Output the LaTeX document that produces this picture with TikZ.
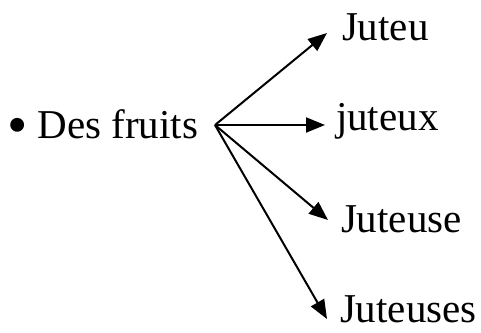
\documentclass[tikz,border=0pt]{standalone}
\usepackage{fontspec}
\setmainfont{Liberation Serif}
\usepackage{tikz}
\usetikzlibrary{arrows.meta}

\begin{document}
\begin{tikzpicture}[x=1pt, y=-1pt, every node/.style={inner sep=0pt, anchor=base west, font=\fontsize{41}{41}\selectfont}, every path/.style={line width=2pt}, fleche/.style={-{Triangle[length=19pt, width=15pt]}}]

    \useasboundingbox (0,0) rectangle (481,332);

    \node (fruits) at (6,138) {\raisebox{-6pt}{\fontsize{58}{58}\selectfont •} Des fruits};

    \coordinate (fork) at (215,125);

    \node (juteu) at (341,40) {Juteu};
    
    \node (juteux) at (335,130) {juteux};
    
    \node (juteuse) at (340,232) {Juteuse};
    
    \node (juteuses) at (339,322) {Juteuses};

    \coordinate (a) at ([shift={(-14,-7)}]juteu.base west);
    \coordinate (b) at ([shift={(-10,-5)}]juteux.base west);
    \coordinate (c) at ([shift={(-12,-12)}]juteuse.base west);
    \coordinate (d) at ([shift={(-12,-3)}]juteuses.base west);

    
    \draw[fleche] (fork) to (a);
    \draw[fleche] (fork) to (b);
    \draw[fleche] (fork) to (c);
    \draw[fleche] (fork) to (d);

\end{tikzpicture}
\end{document}
